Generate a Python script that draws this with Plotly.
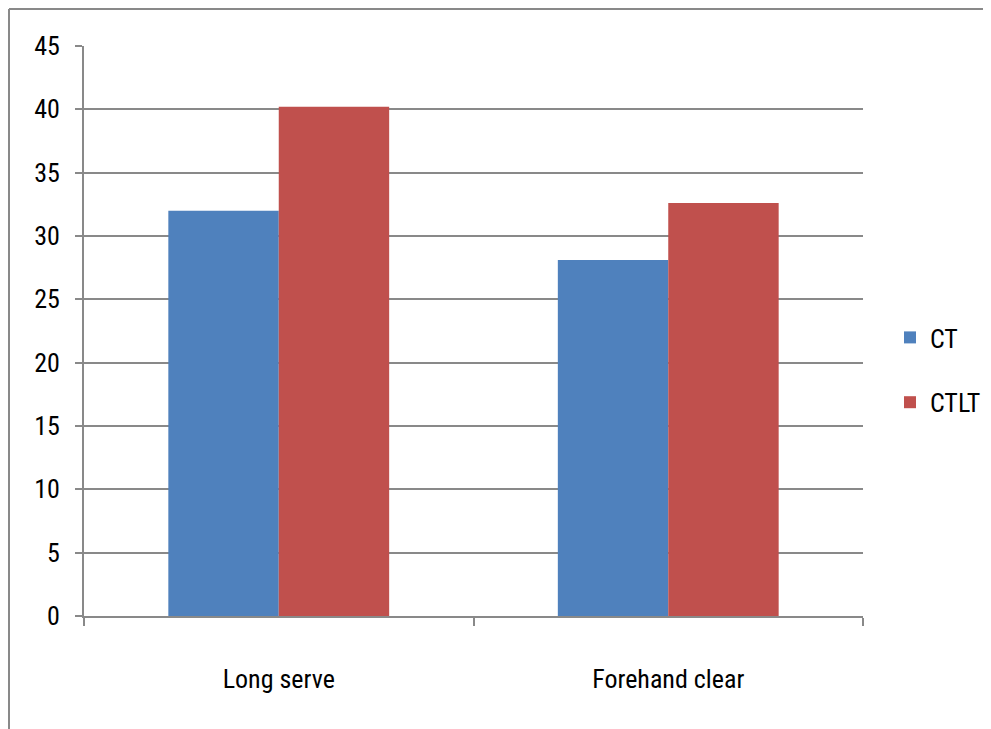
import plotly.graph_objects as go

categories = ["Long serve", "Forehand clear"]
ct_values = [32.0, 28.1]
ctlt_values = [40.2, 32.6]
series_names = ["CT", "CTLT"]
y_ticks = [0, 5, 10, 15, 20, 25, 30, 35, 40, 45]

FONT = "Liberation Sans Narrow, Arial Narrow, Roboto Condensed, sans-serif"
GRID = "#898989"

W, H = 983, 721
L, R, T, B = 76, 128, 38, 113
PW, PH = W - L - R, H - T - B

fig = go.Figure()
fig.add_trace(go.Bar(x=categories, y=ct_values, name=series_names[0],
                     marker=dict(color="#4F81BD", line=dict(width=0)),
                     legendgroup="a"))
fig.add_trace(go.Bar(x=categories, y=ctlt_values, name=series_names[1],
                     marker=dict(color="#C0504D", line=dict(width=0)),
                     legendgroup="b"))

fig.update_layout(
    width=W, height=H,
    margin=dict(l=L, r=R, t=T, b=B, autoexpand=False),
    paper_bgcolor="white", plot_bgcolor="white",
    barmode="group", bargap=0.433, bargroupgap=0,
    font=dict(family=FONT, size=26, color="black"),
    legend=dict(x=882 / W, y=1 - 362 / H, xref="container", yref="container",
                xanchor="left", yanchor="middle",
                font=dict(family=FONT, size=26),
                tracegroupgap=28, traceorder="grouped",
                bgcolor="rgba(0,0,0,0)"),
    showlegend=True,
)
fig.update_xaxes(
    showline=True, linecolor=GRID, linewidth=2,
    ticks="outside", tickson="boundaries", ticklen=8, tickcolor=GRID, tickwidth=2,
    showgrid=False, ticklabelstandoff=39,
    tickfont=dict(family=FONT, size=26),
)
fig.update_yaxes(
    range=[0, 45], tickvals=y_ticks,
    showline=True, linecolor=GRID, linewidth=2,
    showgrid=True, gridcolor=GRID, gridwidth=2,
    ticks="outside", ticklen=7, tickcolor=GRID, tickwidth=2,
    ticklabelstandoff=10, zeroline=False,
    tickfont=dict(family=FONT, size=26),
)
# outer frame (top and left edges visible)
fy = (PH + T - 1) / PH
fx = -(L - 1) / PW
fig.add_shape(type="line", xref="paper", yref="paper",
              x0=fx, x1=(W - L) / PW, y0=fy, y1=fy,
              line=dict(color=GRID, width=2))
fig.add_shape(type="line", xref="paper", yref="paper",
              x0=fx, x1=fx, y0=fy, y1=-B / PH,
              line=dict(color=GRID, width=2))

fig.write_html("out.html")
